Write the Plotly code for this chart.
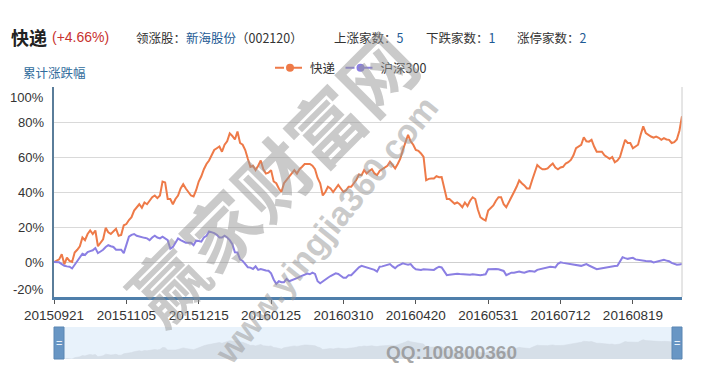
import pandas as pd
import plotly.graph_objects as go

# ---------------- data ----------------
start_date = "2015-09-21"
end_date = "2016-09-19"
holidays = ["2015-10-01", "2015-10-02", "2015-10-05", "2015-10-06", "2015-10-07",
            "2016-01-01", "2016-02-08", "2016-02-09", "2016-02-10", "2016-02-11",
            "2016-02-12", "2016-04-04", "2016-05-02", "2016-06-09", "2016-06-10",
            "2016-09-15", "2016-09-16"]

x_tick_labels = ["20150921", "20151105", "20151215", "20160125", "20160310",
                 "20160420", "20160531", "20160712", "20160819"]
y_tick_values = [-20, 0, 20, 40, 60, 80, 100]

kuaidi = [
    0, 1, 1.5, 4.4, -1.3, 2.5, 0.6, 0, 5.4, 7,
    9, 14, 12.5, 16, 18, 16, 18, 9, 11, 13,
    19.5, 17, 16, 17.5, 19, 15, 15.5, 21, 21.7, 24,
    25.6, 29.4, 31, 33, 31, 34, 33, 35, 37, 38,
    36.5, 38, 46, 45.5, 36, 36, 33, 36, 38, 42,
    44.5, 42, 40, 38, 37.5, 41, 46, 49, 53, 56,
    58, 61, 64, 65, 66, 63, 67, 69, 73.5, 72,
    70, 74.6, 68, 67, 64, 59, 54.4, 55, 52.5, 55,
    58, 53, 50.5, 51, 52.5, 46, 45, 42, 40, 45,
    47, 49, 50.5, 52.5, 50.5, 53, 54.4, 56, 56, 56,
    55, 53, 48, 45, 38, 40, 43, 42, 40, 42,
    44, 42, 40, 41, 43, 43, 45, 47, 50, 49.6,
    52.5, 50.6, 52, 53, 50.6, 49.6, 52, 53, 53.5, 55,
    57.3, 55.4, 53.5, 56, 59, 64, 68, 72.7, 69, 67,
    64, 63.5, 62, 60, 46.7, 47.5, 47.7, 47.7, 49, 48.5,
    48.6, 42, 36, 36, 34.5, 33.3, 34, 33, 31.3, 34,
    32, 35, 37, 36, 30, 25.6, 24.5, 23.7, 29.4, 31,
    32.3, 35, 37, 37, 33, 31.3, 34, 37, 40, 43,
    46.7, 45, 43.8, 42, 42, 46.7, 51, 55.4, 54, 53,
    53, 53.5, 55, 56.3, 54, 53, 54, 54.4, 56.3, 57,
    58.3, 61, 65, 66, 67, 71.3, 69, 68.8, 69.8, 66,
    63, 63, 63, 61, 60, 59, 60, 57, 58, 60,
    65, 69.8, 68, 68, 65, 66, 67, 72.7, 77.5, 73.6,
    72.5, 71.7, 71, 71.7, 71, 69.8, 70.8, 70, 69.8, 68,
    68.5, 70, 75, 83.3,
]

hs300 = [
    0, -0.2, -0.2, -1.2, -2.2, -2.5, -2.7, -3.7, -1.6, 0.5,
    2.4, 4.7, 4, 5.7, 6.2, 6.7, 8, 5.1, 6, 7,
    8.6, 9.6, 9, 8.6, 7, 7.2, 7, 5.1, 10.6, 14.5,
    15.5, 16, 15, 14.5, 14, 13.8, 13.5, 12.5, 14, 15,
    14, 13.5, 14.5, 13.5, 12.5, 7.6, 8.6, 11, 13.5, 12.5,
    11.5, 11, 11, 11, 9.6, 12.2, 12, 11.6, 14, 15,
    17.5, 17, 16.5, 15.5, 14, 14, 15, 14, 12.5, 10.2,
    5.5, 5.4, 1.5, 0.6, -1.2, -3, -3.2, -4, -2.5, -4.5,
    -4, -4.5, -4.8, -5, -6.5, -10, -12.5, -11, -11.5, -11.5,
    -9.7, -11, -10.5, -10, -9.2, -8.5, -8, -7.5, -6.6, -7,
    -6.1, -6.8, -11, -12.2, -11, -10.3, -9, -8, -7.3, -6.5,
    -6.8, -8, -9, -9, -7.5, -7.5, -6, -5, -3, -2.2,
    -2.7, -3.1, -3.5, -4.1, -4.5, -5.5, -2.7, -2.5, -2.2, -1.8,
    -1.2, -2.5, -3.5, -2.2, -1.5, -0.8, -1.2, -1.6, -1.2, -3,
    -4.1, -4.3, -4.5, -4.1, -4.2, -4.7, -4.6, -4.5, -3.5, -2.7,
    -3.1, -5.5, -7.5, -7.3, -7, -6.8, -6.7, -6.9, -7, -7.3,
    -7.6, -7.3, -7, -7.2, -7.5, -7.5, -7.3, -7, -4.1, -4,
    -3.7, -4, -4.1, -4.6, -5.1, -7.5, -6.8, -6.1, -6.1, -5.8,
    -5.5, -5.8, -6.1, -5.6, -5.1, -5.3, -5.5, -4.5, -4.1, -3.5,
    -3.1, -2.9, -2.7, -2.9, -3.1, -1, -0.2, -0.5, -0.8, -1,
    -1.2, -1.5, -1.8, -2, -2.2, -1.7, -1.2, -2, -2.7, -3.5,
    -4.1, -3.8, -3.5, -3.3, -3, -2.7, -2.5, -2.3, -2.2, 0.5,
    2.7, 2.2, 1.8, 2.1, 2.4, 1.5, 1.2, 1, 0.8, 0.6,
    0.5, 0.4, -0.2, 0.2, 0.8, 1, 1.2, 0.8, 0.4, -0.5,
    -1.2, -1.6, -1.4, -1.2,
]

series_names = ["快递", "沪深300"]

# ---------------- build ----------------
days = [d for d in pd.bdate_range(start_date, end_date)
        if d.strftime("%Y-%m-%d") not in holidays]
dates = [d.strftime("%Y%m%d") for d in days]
n = min(len(dates), len(kuaidi), len(hs300))
dates = dates[:n]
kuaidi = kuaidi[:n]
hs300 = hs300[:n]

ORANGE = "#ee7a48"
PURPLE = "#8b7fe3"
AXIS_BLUE = "#4f7fab"
FONT = "Liberation Sans, Noto Sans CJK SC, sans-serif"
CJK = "Noto Sans CJK SC, Liberation Sans, sans-serif"

# page body adds an 8px margin; the figure is sized/laid out to compensate
OFF = 8
W, H = 714 - OFF, 376 - OFF
LEFT, RIGHT, TOP, BOTTOM = 54, 682, 87, 359
ML, MR, MT, MB = LEFT - OFF, 714 - RIGHT, TOP - OFF, 376 - BOTTOM
PW = W - ML - MR
PH = H - MT - MB


def px(x):
    return (x - LEFT) / PW


def py(y):
    return (BOTTOM - y) / PH


main_bottom = py(297)
slider_top = py(327)

fig = go.Figure()

fig.add_trace(go.Scatter(x=dates, y=kuaidi, mode="lines", name=series_names[0],
                         line=dict(color=ORANGE, width=2), showlegend=False,
                         xaxis="x", yaxis="y"))
fig.add_trace(go.Scatter(x=dates, y=hs300, mode="lines", name=series_names[1],
                         line=dict(color=PURPLE, width=2), showlegend=False,
                         xaxis="x", yaxis="y"))
fig.add_trace(go.Scatter(x=[None], y=[None], mode="lines+markers", name=series_names[0],
                         line=dict(color=ORANGE, width=2, dash="dash"),
                         marker=dict(size=8, color=ORANGE), xaxis="x", yaxis="y"))
fig.add_trace(go.Scatter(x=[None], y=[None], mode="lines+markers", name=series_names[1],
                         line=dict(color=PURPLE, width=2, dash="dash"),
                         marker=dict(size=8, color=PURPLE), xaxis="x", yaxis="y"))
fig.add_trace(go.Scatter(x=dates, y=kuaidi, mode="lines", fill="tozeroy",
                         line=dict(color="#d2dbe4", width=0.5),
                         fillcolor="#d6dfe8", showlegend=False, hoverinfo="skip",
                         xaxis="x2", yaxis="y2"))

fig.update_layout(
    width=W, height=H,
    margin=dict(l=ML, r=MR, t=MT, b=MB, autoexpand=False),
    paper_bgcolor="white", plot_bgcolor="white",
    font=dict(family=FONT, size=12, color="#333"),
    showlegend=True,
    legend=dict(orientation="h", x=px(351), y=py(68), xanchor="center", yanchor="middle",
                font=dict(family=CJK, size=12.5, color="#333"),
                itemwidth=30, tracegroupgap=0, bgcolor="rgba(0,0,0,0)"),
    xaxis=dict(domain=[0, 1], anchor="y", type="category", automargin=False,
               range=[0, n - 1], tickmode="array", tickvals=x_tick_labels,
               ticktext=x_tick_labels, showgrid=False, showline=True,
               linecolor=AXIS_BLUE, linewidth=3, ticks="outside", ticklen=4,
               tickcolor="#555", tickwidth=1, zeroline=False,
               tickfont=dict(size=13.5, color="#333", family=FONT)),
    yaxis=dict(domain=[main_bottom, 1], anchor="x", range=[-20, 100], automargin=False,
               tickvals=y_tick_values, showticklabels=False, showgrid=True,
               gridcolor="#d9d9d9", gridwidth=1, zeroline=True,
               zerolinecolor="#cfcfcf", zerolinewidth=1,
               showline=True, linecolor="#5a7d9a", linewidth=2, ticks=""),
    xaxis2=dict(domain=[0, 1], anchor="y2", type="category", range=[0, n - 1],
                showticklabels=False, showgrid=False, showline=False, zeroline=False,
                ticks="", automargin=False),
    yaxis2=dict(domain=[0, slider_top], anchor="x2", range=[0, 128],
                showticklabels=False, showgrid=False, showline=False, zeroline=False,
                ticks="", automargin=False),
)

shapes = [
    dict(type="line", xref="x domain", yref="y domain", x0=1, x1=1, y0=0, y1=1,
         line=dict(color="#cccccc", width=1)),
    dict(type="rect", xref="x2 domain", yref="y2 domain", x0=0, x1=1, y0=0, y1=1,
         fillcolor="#e8f2fb", line=dict(width=0), layer="below"),
    dict(type="rect", xref="paper", yref="paper", x0=px(54), x1=px(64),
         y0=py(359), y1=py(327), fillcolor="#6896c4", line=dict(color="#5a86b3", width=1)),
    dict(type="rect", xref="paper", yref="paper", x0=px(672), x1=px(682),
         y0=py(359), y1=py(327), fillcolor="#6896c4", line=dict(color="#5a86b3", width=1)),
]
fig.update_layout(shapes=shapes)

BLUE_TXT = "#1d5a94"
ann = [
    dict(text="<b>快递</b>", x=px(9), y=py(37), font=dict(size=18, color="#222", family=CJK)),
    dict(text="(+4.66%)", x=px(50), y=py(37), font=dict(size=14, color="#c8322f", family=FONT)),
    dict(text=f"领涨股：<span style='color:{BLUE_TXT}'>新海股份</span>（002120）",
         x=px(134), y=py(37), font=dict(size=12.5, color="#333", family=CJK)),
    dict(text=f"上涨家数：<span style='color:{BLUE_TXT}'>5</span>",
         x=px(332), y=py(37), font=dict(size=12.5, color="#333", family=CJK)),
    dict(text=f"下跌家数：<span style='color:{BLUE_TXT}'>1</span>",
         x=px(424), y=py(37), font=dict(size=12.5, color="#333", family=CJK)),
    dict(text=f"涨停家数：<span style='color:{BLUE_TXT}'>2</span>",
         x=px(515), y=py(37), font=dict(size=12.5, color="#333", family=CJK)),
    dict(text="累计涨跌幅", x=px(21), y=py(73), font=dict(size=12.5, color="#2f6c9c", family=CJK)),
]
for a in ann:
    a.update(xref="paper", yref="paper", xanchor="left", yanchor="middle", showarrow=False)

for v in y_tick_values:
    shift = -10 if v == y_tick_values[-1] else (8 if v == y_tick_values[0] else 0)
    ann.append(dict(text=f"{v}%", x=px(46), y=v, xref="paper", yref="y",
                    xanchor="right", yanchor="middle", yshift=shift, showarrow=False,
                    font=dict(size=13, color="#333", family=FONT)))

for hx in (59, 677):
    ann.append(dict(text="=", x=px(hx), y=py(343), xref="paper", yref="paper",
                    showarrow=False, xanchor="center", yanchor="middle",
                    font=dict(size=11, color="#e8f0f8", family=FONT)))

ann.append(dict(text="<b>赢家财富网</b>", x=px(270), y=py(176), xref="paper", yref="paper",
                showarrow=False, textangle=-45, xanchor="center", yanchor="middle",
                font=dict(size=74, color="rgba(150,150,150,0.5)", family=CJK)))
ann.append(dict(text="<b>www.yingjia360.com</b>", x=px(326), y=py(230), xref="paper",
                yref="paper", showarrow=False, textangle=-51, xanchor="center",
                yanchor="middle",
                font=dict(size=34, color="rgba(150,150,150,0.5)", family=FONT)))
ann.append(dict(text="<b>QQ:100800360</b>", x=px(451), y=py(352), xref="paper",
                yref="paper", showarrow=False, xanchor="center", yanchor="middle",
                font=dict(size=19, color="rgba(140,140,140,0.75)", family=FONT)))

fig.update_layout(annotations=ann)

fig.write_html("out.html")
